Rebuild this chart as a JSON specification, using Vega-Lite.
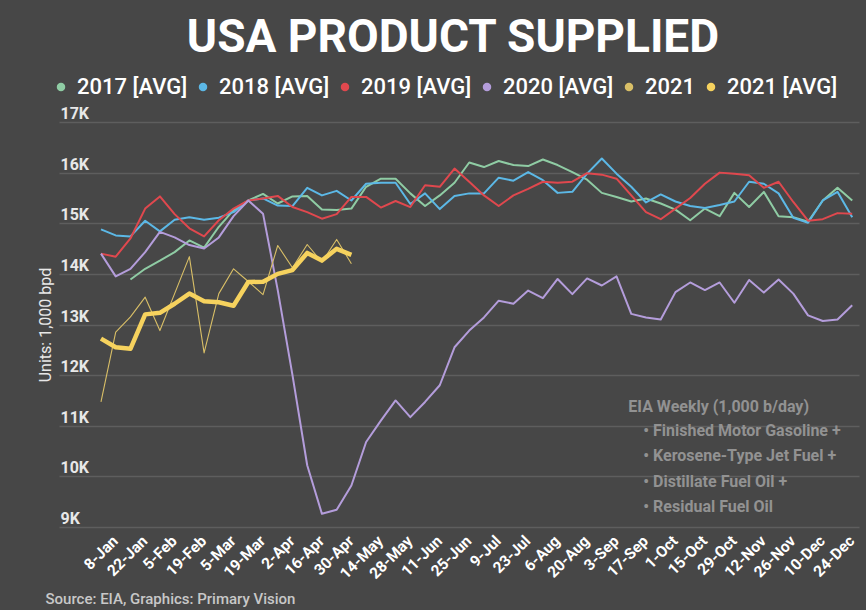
{
  "$schema": "https://vega.github.io/schema/vega-lite/v6.json",
  "width": 800,
  "height": 405,
  "autosize": {"type": "none"},
  "padding": {"left": 59, "top": 122, "right": 7, "bottom": 83},
  "background": "#474747",
  "title": {"text": "USA PRODUCT SUPPLIED", "fontSize": 46, "font": "Roboto", "fontWeight": "bold", "color": "#ffffff", "anchor": "middle", "offset": 14, "dx": -6},
  "config": {"view": {"stroke": null}, "axis": {"labelOverlap": false}},
  "encoding": {
    "x": {
      "field": "i", "type": "quantitative",
      "scale": {"domain": [-2.85, 51.46], "nice": false, "zero": false},
      "axis": {
        "title": "Source: EIA, Graphics: Primary Vision",
        "values": [0, 2, 4, 6, 8, 10, 12, 14, 16, 18, 20, 22, 24, 26, 28, 30, 32, 34, 36, 38, 40, 42, 44, 46, 48, 50],
        "labelExpr": "['8-Jan','22-Jan','5-Feb','19-Feb','5-Mar','19-Mar','2-Apr','16-Apr','30-Apr','14-May','28-May','11-Jun','25-Jun','9-Jul','23-Jul','6-Aug','20-Aug','3-Sep','17-Sep','1-Oct','15-Oct','29-Oct','12-Nov','26-Nov','10-Dec','24-Dec'][datum.value/2]",
        "grid": false, "domain": false, "ticks": false, "tickSize": 0,
        "labelAngle": -45, "labelFont": "Roboto", "labelFontSize": 15.5, "labelFontWeight": "bold", "labelColor": "#ffffff",
        "labelPadding": 6, "labelOffset": 9, "labelOverlap": false, "labelFlush": false, "labelBound": false,
        "titleAnchor": "start", "titleAlign": "left", "titleX": -14, "titleY": 76, "titleBaseline": "alphabetic",
        "titleFont": "Roboto", "titleFontSize": 15, "titleFontWeight": 500, "titleColor": "#c8c8c8"
      }
    },
    "y": {
      "field": "value", "type": "quantitative",
      "scale": {"domain": [9000, 17000], "nice": false, "zero": false},
      "axis": {
        "title": "Units: 1,000 bpd",
        "values": [9000, 10000, 11000, 12000, 13000, 14000, 15000, 16000, 17000],
        "labelExpr": "datum.value/1000 + 'K'",
        "grid": true, "gridColor": "#5e5e5e", "gridWidth": 1.5,
        "domain": false, "ticks": false, "tickSize": 0,
        "labelAlign": "left", "labelBaseline": "alphabetic", "labelPadding": -1, "labelOffset": -3.5,
        "labelFont": "Roboto", "labelFontSize": 16, "labelFontWeight": "bold", "labelColor": "#e8e8e8",
        "labelFlush": false, "labelOverlap": false,
        "titleFont": "Roboto", "titleFontSize": 16, "titleFontWeight": "normal", "titleColor": "#e8e8e8", "titlePadding": 6
      }
    }
  },
  "layer": [
    {
      "data": {"values": [
        {"i": 0, "week": "8-Jan", "s2018": 14880, "s2019": 14400, "s2020": 14400, "s2021": 11470, "s2021avg": 12720},
        {"i": 1, "week": "15-Jan", "s2018": 14760, "s2019": 14340, "s2020": 13950, "s2021": 12850, "s2021avg": 12550},
        {"i": 2, "week": "22-Jan", "s2017": 13890, "s2018": 14740, "s2019": 14700, "s2020": 14100, "s2021": 13150, "s2021avg": 12520},
        {"i": 3, "week": "29-Jan", "s2017": 14100, "s2018": 15050, "s2019": 15290, "s2020": 14430, "s2021": 13540, "s2021avg": 13200},
        {"i": 4, "week": "5-Feb", "s2017": 14260, "s2018": 14840, "s2019": 15530, "s2020": 14830, "s2021": 12880, "s2021avg": 13230},
        {"i": 5, "week": "12-Feb", "s2017": 14430, "s2018": 15070, "s2019": 15180, "s2020": 14720, "s2021": 13610, "s2021avg": 13410},
        {"i": 6, "week": "19-Feb", "s2017": 14660, "s2018": 15120, "s2019": 14900, "s2020": 14570, "s2021": 14340, "s2021avg": 13610},
        {"i": 7, "week": "26-Feb", "s2017": 14520, "s2018": 15070, "s2019": 14740, "s2020": 14500, "s2021": 12440, "s2021avg": 13460},
        {"i": 8, "week": "5-Mar", "s2017": 14930, "s2018": 15110, "s2019": 15060, "s2020": 14720, "s2021": 13610, "s2021avg": 13440},
        {"i": 9, "week": "12-Mar", "s2017": 15260, "s2018": 15220, "s2019": 15290, "s2020": 15140, "s2021": 14100, "s2021avg": 13370},
        {"i": 10, "week": "19-Mar", "s2017": 15450, "s2018": 15450, "s2019": 15450, "s2020": 15450, "s2021": 13850, "s2021avg": 13840},
        {"i": 11, "week": "26-Mar", "s2017": 15580, "s2018": 15490, "s2019": 15490, "s2020": 15190, "s2021": 13590, "s2021avg": 13845},
        {"i": 12, "week": "2-Apr", "s2017": 15390, "s2018": 15350, "s2019": 15540, "s2020": 13680, "s2021": 14560, "s2021avg": 14000},
        {"i": 13, "week": "9-Apr", "s2017": 15530, "s2018": 15340, "s2019": 15320, "s2020": 12000, "s2021": 14120, "s2021avg": 14075},
        {"i": 14, "week": "16-Apr", "s2017": 15540, "s2018": 15700, "s2019": 15220, "s2020": 10220, "s2021": 14580, "s2021avg": 14414},
        {"i": 15, "week": "23-Apr", "s2017": 15270, "s2018": 15550, "s2019": 15090, "s2020": 9260, "s2021": 14230, "s2021avg": 14265},
        {"i": 16, "week": "30-Apr", "s2017": 15260, "s2018": 15640, "s2019": 15180, "s2020": 9340, "s2021": 14680, "s2021avg": 14495},
        {"i": 17, "week": "7-May", "s2017": 15290, "s2018": 15450, "s2019": 15520, "s2020": 9820, "s2021": 14200, "s2021avg": 14375},
        {"i": 18, "week": "14-May", "s2017": 15720, "s2018": 15780, "s2019": 15520, "s2020": 10680},
        {"i": 19, "week": "21-May", "s2017": 15880, "s2018": 15800, "s2019": 15310, "s2020": 11100},
        {"i": 20, "week": "28-May", "s2017": 15880, "s2018": 15800, "s2019": 15440, "s2020": 11500},
        {"i": 21, "week": "4-Jun", "s2017": 15590, "s2018": 15380, "s2019": 15320, "s2020": 11170},
        {"i": 22, "week": "11-Jun", "s2017": 15340, "s2018": 15590, "s2019": 15750, "s2020": 11470},
        {"i": 23, "week": "18-Jun", "s2017": 15550, "s2018": 15280, "s2019": 15720, "s2020": 11800},
        {"i": 24, "week": "25-Jun", "s2017": 15800, "s2018": 15540, "s2019": 16080, "s2020": 12550},
        {"i": 25, "week": "2-Jul", "s2017": 16200, "s2018": 15590, "s2019": 15820, "s2020": 12880},
        {"i": 26, "week": "9-Jul", "s2017": 16110, "s2018": 15590, "s2019": 15550, "s2020": 13140},
        {"i": 27, "week": "16-Jul", "s2017": 16230, "s2018": 15900, "s2019": 15340, "s2020": 13470},
        {"i": 28, "week": "23-Jul", "s2017": 16150, "s2018": 15840, "s2019": 15550, "s2020": 13410},
        {"i": 29, "week": "30-Jul", "s2017": 16130, "s2018": 16010, "s2019": 15680, "s2020": 13670},
        {"i": 30, "week": "6-Aug", "s2017": 16260, "s2018": 15850, "s2019": 15820, "s2020": 13520},
        {"i": 31, "week": "13-Aug", "s2017": 16150, "s2018": 15600, "s2019": 15800, "s2020": 13900},
        {"i": 32, "week": "20-Aug", "s2017": 16010, "s2018": 15620, "s2019": 15820, "s2020": 13600},
        {"i": 33, "week": "27-Aug", "s2017": 15860, "s2018": 15980, "s2019": 15990, "s2020": 13910},
        {"i": 34, "week": "3-Sep", "s2017": 15600, "s2018": 16280, "s2019": 15960, "s2020": 13770},
        {"i": 35, "week": "10-Sep", "s2017": 15520, "s2018": 15980, "s2019": 15880, "s2020": 13950},
        {"i": 36, "week": "17-Sep", "s2017": 15430, "s2018": 15720, "s2019": 15550, "s2020": 13210},
        {"i": 37, "week": "24-Sep", "s2017": 15490, "s2018": 15410, "s2019": 15220, "s2020": 13140},
        {"i": 38, "week": "1-Oct", "s2017": 15390, "s2018": 15570, "s2019": 15080, "s2020": 13100},
        {"i": 39, "week": "8-Oct", "s2017": 15270, "s2018": 15430, "s2019": 15290, "s2020": 13640},
        {"i": 40, "week": "15-Oct", "s2017": 15060, "s2018": 15340, "s2019": 15500, "s2020": 13830},
        {"i": 41, "week": "22-Oct", "s2017": 15290, "s2018": 15300, "s2019": 15780, "s2020": 13680},
        {"i": 42, "week": "29-Oct", "s2017": 15140, "s2018": 15360, "s2019": 16000, "s2020": 13830},
        {"i": 43, "week": "5-Nov", "s2017": 15600, "s2018": 15430, "s2019": 15980, "s2020": 13430},
        {"i": 44, "week": "12-Nov", "s2017": 15320, "s2018": 15820, "s2019": 15950, "s2020": 13880},
        {"i": 45, "week": "19-Nov", "s2017": 15620, "s2018": 15780, "s2019": 15700, "s2020": 13630},
        {"i": 46, "week": "26-Nov", "s2017": 15140, "s2018": 15590, "s2019": 15820, "s2020": 13890},
        {"i": 47, "week": "3-Dec", "s2017": 15120, "s2018": 15110, "s2019": 15420, "s2020": 13610},
        {"i": 48, "week": "10-Dec", "s2017": 15030, "s2018": 15010, "s2019": 15050, "s2020": 13180},
        {"i": 49, "week": "17-Dec", "s2017": 15450, "s2018": 15450, "s2019": 15080, "s2020": 13070},
        {"i": 50, "week": "24-Dec", "s2017": 15700, "s2018": 15620, "s2019": 15200, "s2020": 13100},
        {"i": 51, "week": "31-Dec", "s2017": 15450, "s2018": 15120, "s2019": 15190, "s2020": 13380}
      ]},
      "transform": [{"fold": ["s2017", "s2018", "s2019", "s2020", "s2021", "s2021avg"], "as": ["series", "value"]}],
      "mark": {"type": "line", "strokeJoin": "round"},
      "encoding": {
        "color": {
          "field": "series", "type": "nominal",
          "scale": {"domain": ["s2017", "s2018", "s2019", "s2020", "s2021", "s2021avg"], "range": ["#8fcca4", "#5cb8e6", "#e0484e", "#b49ddb", "#d9bf67", "#f6d25e"]},
          "legend": {
            "orient": "none", "legendX": -9, "legendY": -46, "direction": "horizontal", "title": null,
            "symbolType": "circle", "symbolSize": 72, "symbolStrokeWidth": 0,
            "labelFontSize": 22, "labelFont": "Roboto", "labelFontWeight": 500, "labelColor": "#ffffff",
            "labelOffset": 5, "columnPadding": 4,
            "labelExpr": "datum.value == 's2021avg' ? '2021 [AVG]' : datum.value == 's2021' ? '2021' : slice(datum.value, 1) + ' [AVG]'",
            "encode": {"symbols": {"update": {"fill": {"scale": "color", "field": "value"}, "strokeWidth": {"value": 0}, "opacity": {"value": 1}}}}
          }
        },
        "strokeWidth": {
          "condition": [
            {"test": "datum.series === 's2021avg'", "value": 4.5},
            {"test": "datum.series === 's2021'", "value": 1.1}
          ],
          "value": 2
        }
      }
    },
    {
      "data": {"values": [
        {"label": "EIA Weekly (1,000 b/day)", "i": 35.8, "value": 11274},
        {"label": "• Finished Motor Gasoline +", "i": 36.82, "value": 10795},
        {"label": "• Kerosene-Type Jet Fuel +", "i": 36.82, "value": 10302},
        {"label": "• Distillate Fuel Oil +", "i": 36.82, "value": 9795},
        {"label": "• Residual Fuel Oil", "i": 36.82, "value": 9302}
      ]},
      "mark": {"type": "text", "align": "left", "baseline": "alphabetic", "font": "Roboto", "fontSize": 16, "fontWeight": "bold", "color": "#929292"},
      "encoding": {
        "text": {"field": "label"}
      }
    }
  ]
}
